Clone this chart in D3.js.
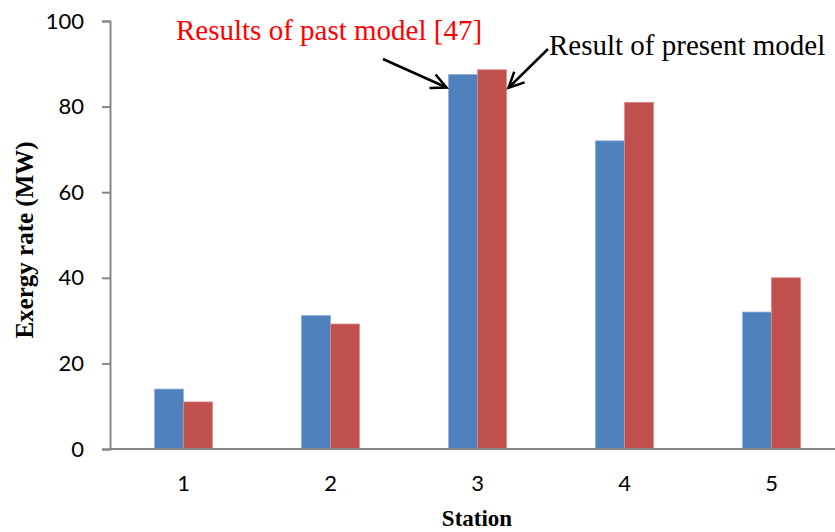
<!DOCTYPE html>
<html><head><meta charset="utf-8">
<script src="https://cdn.jsdelivr.net/npm/d3@7"></script>
<style>body{margin:0;background:#fff}svg{display:block}</style>
</head><body><svg id="c" width="835" height="532"></svg>
<script>
const stations = ["1","2","3","4","5"];
const pastModel = [14, 31.2, 87.5, 72, 32];
const presentModel = [11, 29.2, 88.6, 81, 40];
const yTicks = [0,20,40,60,80,100];
const seriesNames = ["Results of past model [47]","Result of present model"];
const colors = ["#4F81BD","#C0504D"];

const svg = d3.select("#c");
const x0 = d3.scaleBand().domain(stations).range([110,845]).paddingInner(0).paddingOuter(0);
const y = d3.scaleLinear().domain([0,100]).range([449,21]);
const x1 = d3.scaleBand().domain([0,1]).range([0,58]);
const off = (x0.bandwidth()-58)/2;

// y axis
const ya = svg.append("g").attr("transform","translate(110,0)")
  .call(d3.axisLeft(y).tickValues(yTicks).tickSize(8).tickPadding(18));
ya.select(".domain").attr("stroke","#868686").attr("stroke-width",2);
ya.selectAll(".tick line").attr("stroke","#868686").attr("stroke-width",2);
ya.selectAll(".tick text").attr("font-family","Lato, 'Open Sans', sans-serif").attr("font-size",22).attr("fill","#000");

// bars
const data = stations.map((s,i)=>({s, v:[pastModel[i], presentModel[i]]}));
const g = svg.append("g");
data.forEach(d=>{
  d.v.forEach((v,k)=>{
    g.append("rect")
      .attr("x", x0(d.s)+off+x1(k))
      .attr("y", y(v))
      .attr("width", x1.bandwidth())
      .attr("height", y(0)-y(v))
      .attr("fill", colors[k])
      .attr("stroke", k===0?"#8fb0dc":"#e08a88").attr("stroke-width",0.8);
  });
});

// x axis
const xa = svg.append("g").attr("transform","translate(0,449)")
  .call(d3.axisBottom(x0).tickSize(0).tickPadding(26));
xa.select(".domain").attr("stroke","#868686").attr("stroke-width",2).attr("d","M110,0H835");
xa.selectAll(".tick text").attr("font-family","Lato, 'Open Sans', sans-serif").attr("font-size",22).attr("fill","#000");

// axis titles
svg.append("text").attr("transform","translate(33,240) rotate(-90)")
  .attr("text-anchor","middle").attr("font-family","'Liberation Serif', serif")
  .attr("font-weight","bold").attr("font-size",25).text("Exergy rate (MW)");
svg.append("text").attr("x",477).attr("y",526)
  .attr("text-anchor","middle").attr("font-family","'Liberation Serif', serif")
  .attr("font-weight","bold").attr("font-size",23).text("Station");

// annotations
svg.append("text").attr("x",176).attr("y",40).attr("font-family","'Liberation Serif', serif")
  .attr("font-size",29).attr("fill","#FF0000").text(seriesNames[0]);
svg.append("text").attr("x",549).attr("y",55).attr("font-family","'Liberation Serif', serif")
  .attr("font-size",29).attr("fill","#000").text(seriesNames[1]);

function arrow(x1p,y1p,x2p,y2p){
  svg.append("line").attr("x1",x1p).attr("y1",y1p).attr("x2",x2p).attr("y2",y2p)
    .attr("stroke","#000").attr("stroke-width",2.5);
  const a = Math.atan2(y2p-y1p,x2p-x1p), L=17, w=0.45;
  const p1=[x2p-L*Math.cos(a-w), y2p-L*Math.sin(a-w)];
  const p2=[x2p-L*Math.cos(a+w), y2p-L*Math.sin(a+w)];
  svg.append("path").attr("d",`M${p1}L${x2p},${y2p}L${p2}`)
    .attr("fill","none").attr("stroke","#000").attr("stroke-width",2.5);
}
// arrows point to the top of station 3 bars
const s3 = x0("3")+off;
arrow(383,59, s3-2, y(pastModel[2])+13);
arrow(548,49, s3+58+2, y(presentModel[2])+18);
</script></body></html>
